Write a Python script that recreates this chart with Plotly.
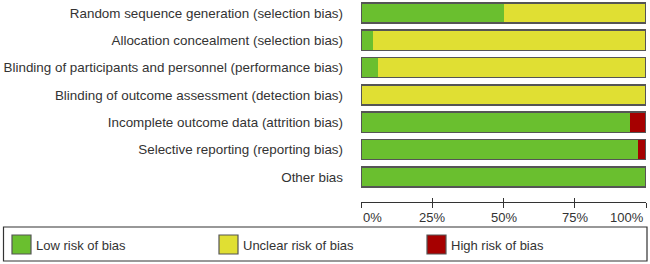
import plotly.graph_objects as go

categories = [
    "Random sequence generation (selection bias)",
    "Allocation concealment (selection bias)",
    "Blinding of participants and personnel (performance bias)",
    "Blinding of outcome assessment (detection bias)",
    "Incomplete outcome data (attrition bias)",
    "Selective reporting (reporting bias)",
    "Other bias",
]
low = [50.0, 4.3, 5.9, 0.0, 94.4, 97.1, 100.0]
unclear = [50.0, 95.7, 94.1, 100.0, 0.0, 0.0, 0.0]
high = [0.0, 0.0, 0.0, 0.0, 5.6, 2.9, 0.0]
series_names = ["Low risk of bias", "Unclear risk of bias", "High risk of bias"]
series_colors = ["#6abf2f", "#e0df33", "#a60000"]
tick_vals = [0, 25, 50, 75, 100]
tick_text = ["0%", "25%", "50%", "75%", "100%"]

font_family = "Liberation Sans, Arial, sans-serif"
text_color = "#333333"

W, H = 650, 264
ML, MR, MT, MB = 361, 4, 0, 62
PW, PH = W - ML - MR, H - MT - MB


def px(xp):
    return (xp - ML) / PW


def py(yp):
    return (H - MB - yp) / PH


fig = go.Figure()
for name, vals, col in zip(series_names, [low, unclear, high], series_colors):
    fig.add_trace(go.Bar(
        y=categories, x=vals, orientation="h", name=name,
        marker=dict(color=col, line=dict(width=0)),
        width=0.74,
    ))

totals = [a + b + c for a, b, c in zip(low, unclear, high)]
fig.add_trace(go.Bar(
    y=categories, x=totals, orientation="h", yaxis="y2",
    marker=dict(color="rgba(0,0,0,0)", line=dict(color="#555555", width=1.5)),
    width=0.74, showlegend=False, hoverinfo="skip",
))
fig.add_trace(go.Scatter(x=[None], y=[None], xaxis="x2", showlegend=False))

yr = [6.92, -0.476]
fig.update_layout(
    width=W, height=H,
    margin=dict(l=ML, r=MR, t=MT, b=MB),
    barmode="stack",
    plot_bgcolor="white", paper_bgcolor="white",
    font=dict(family=font_family, size=13, color=text_color),
    showlegend=False,
    xaxis=dict(range=[0, 100], tickvals=tick_vals, showticklabels=False,
               ticks="outside", ticklen=5, tickcolor="#333", tickwidth=1.3,
               showline=True, linecolor="#333", linewidth=1.3,
               showgrid=False, zeroline=False, fixedrange=True),
    xaxis2=dict(range=[0, 100], tickvals=tick_vals, showticklabels=False,
                ticks="inside", ticklen=4, tickcolor="#333", tickwidth=1.3,
                overlaying="x", anchor="y", showgrid=False, zeroline=False,
                showline=False),
    yaxis=dict(categoryorder="array", categoryarray=categories, range=yr,
               showgrid=False, zeroline=False, showline=False, ticks="",
               ticklabelstandoff=17, tickfont=dict(size=13.4, color=text_color)),
    yaxis2=dict(categoryorder="array", categoryarray=categories, range=yr,
                overlaying="y", showticklabels=False, showgrid=False,
                zeroline=False, showline=False, ticks=""),
)

for v, t in zip(tick_vals, tick_text):
    anchor = "left" if v == tick_vals[0] else ("right" if v == tick_vals[-1] else "center")
    fig.add_annotation(x=v, y=0, xref="x", yref="paper", text=t, showarrow=False,
                       xanchor=anchor, yanchor="top", yshift=-6,
                       font=dict(size=13, color=text_color))

# legend box
fig.add_shape(type="rect", xref="paper", yref="paper",
              x0=px(3.5), x1=px(647), y0=py(227), y1=py(261),
              line=dict(color="#333", width=1.2), fillcolor="rgba(0,0,0,0)")

legend_x = [12, 219, 427]
for lx, name, col in zip(legend_x, series_names, series_colors):
    fig.add_shape(type="rect", xref="paper", yref="paper",
                  x0=px(lx), x1=px(lx + 19), y0=py(235), y1=py(254),
                  line=dict(color="#555", width=1.2), fillcolor=col)
    fig.add_annotation(x=px(lx + 22), y=py(245), xref="paper", yref="paper",
                       text=name, showarrow=False, xanchor="left", yanchor="middle",
                       font=dict(size=13, color=text_color))

fig.write_html("out.html")
